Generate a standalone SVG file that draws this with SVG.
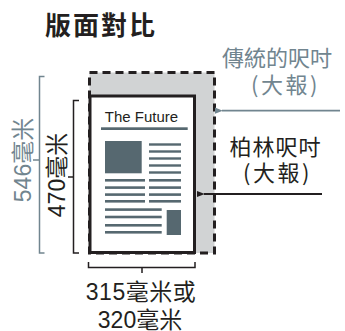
<svg xmlns="http://www.w3.org/2000/svg" width="345" height="331" viewBox="0 0 345 331">
<defs>
<style>
.cjk{font-family:"Noto Sans CJK TC","Noto Sans CJK SC","Noto Sans",sans-serif;}
.num{font-family:"Liberation Sans","Noto Sans CJK TC","Noto Sans CJK SC",sans-serif;}
.blk{fill:#231f20;}
.gry{fill:#71858f;}
.ink{fill:#566870;}
.bk{stroke:#231f20;fill:none;stroke-width:1.5;}
.gk{stroke:#71858f;fill:none;stroke-width:1.5;}
</style>
<marker id="ahb" viewBox="0 0 10 10" refX="1" refY="5" markerWidth="8" markerHeight="8" markerUnits="userSpaceOnUse" orient="auto">
<path d="M10,1 L0,5 L10,9 Z" fill="#231f20"/>
</marker>
<marker id="ahg" viewBox="0 0 10 10" refX="1" refY="5" markerWidth="8" markerHeight="8" markerUnits="userSpaceOnUse" orient="auto">
<path d="M10,1 L0,5 L10,9 Z" fill="#71858f"/>
</marker>
</defs>
<rect width="345" height="331" fill="#ffffff"/>
<g id="title">
<text x="45" y="35" class="cjk blk" font-size="26" font-weight="bold" letter-spacing="2">版面對比</text>
</g>
<g id="broadsheet">
<rect x="89.5" y="72.5" width="125" height="180.5" fill="#d1d3d4" stroke="#231f20" stroke-width="3" stroke-dasharray="8 5"/>
</g>
<g id="berliner">
<rect x="90" y="96" width="104.5" height="156.5" fill="#ffffff" stroke="#231f20" stroke-width="3"/>
<text x="141.5" y="121.5" font-family="Liberation Sans, Arial, sans-serif" font-size="15" text-anchor="middle" class="blk">The Future</text>
<rect x="101" y="127.3" width="86.7" height="2.7" class="ink"/>
<rect x="105" y="141" width="36.7" height="32.3" class="ink"/>
<g class="ink">
<rect x="149" y="143.3" width="32" height="2.4"/>
<rect x="149" y="150.3" width="32" height="2.4"/>
<rect x="149" y="157.3" width="32" height="2.4"/>
<rect x="149" y="164.3" width="32" height="2.4"/>
<rect x="149" y="171.3" width="32" height="2.4"/>
<rect x="149" y="179" width="32" height="2.6"/>
<rect x="149" y="186.3" width="32" height="2.6"/>
<rect x="149" y="193.3" width="32" height="2.6"/>
<rect x="149" y="200" width="32" height="2.6"/>
<rect x="105" y="179" width="40" height="2.6"/>
<rect x="105" y="186.3" width="40" height="2.6"/>
<rect x="105" y="193.3" width="40" height="2.6"/>
<rect x="105" y="200" width="40" height="2.6"/>
<rect x="105" y="208.3" width="56.7" height="2.6"/>
<rect x="105" y="215.7" width="56.7" height="2.6"/>
<rect x="105" y="224" width="56.7" height="2.6"/>
<rect x="105" y="231" width="56.7" height="2.6"/>
<rect x="166.7" y="210" width="14.3" height="25"/>
</g>
</g>
<g id="label-broadsheet">
<text x="277" y="66" class="cjk gry" font-size="22" text-anchor="middle">傳統的呎吋</text>
<text x="285.5" y="93" class="cjk gry" font-size="22" text-anchor="middle" letter-spacing="2.5">(大報)</text>
</g>
<g id="label-berliner">
<text x="275.5" y="155" class="cjk blk" font-size="22" text-anchor="middle" letter-spacing="1">柏林呎吋</text>
<text x="277.5" y="181" class="cjk blk" font-size="22" text-anchor="middle" letter-spacing="2.5">(大報)</text>
</g>
<g id="label-546">
<text transform="translate(31,160) rotate(-90)" class="num gry" font-size="23" text-anchor="middle">546毫米</text>
</g>
<g id="label-470">
<text transform="translate(65,175) rotate(-90)" class="num blk" font-size="23" text-anchor="middle">470毫米</text>
</g>
<g id="label-width">
<text x="141" y="300" class="num blk" font-size="23" text-anchor="middle" letter-spacing="0.5">315毫米或</text>
<text x="140" y="328" class="num blk" font-size="23" text-anchor="middle">320毫米</text>
</g>
<g id="connectors">
<path class="gk" d="M44.5,76.5 H39.5 V253 H44.5 M39.5,160 H33"/>
<path class="bk" d="M79,100.5 H73.5 V253 H79 M73.5,177 H68"/>
<path class="bk" d="M88.5,262 V267.5 H195 V262 M142,267.5 V273"/>
<line x1="340" y1="110.7" x2="222" y2="110.7" stroke="#71858f" stroke-width="1.8" marker-end="url(#ahg)"/>
<line x1="322" y1="194" x2="204" y2="194" stroke="#231f20" stroke-width="1.8" marker-end="url(#ahb)"/>
</g>
</svg>
